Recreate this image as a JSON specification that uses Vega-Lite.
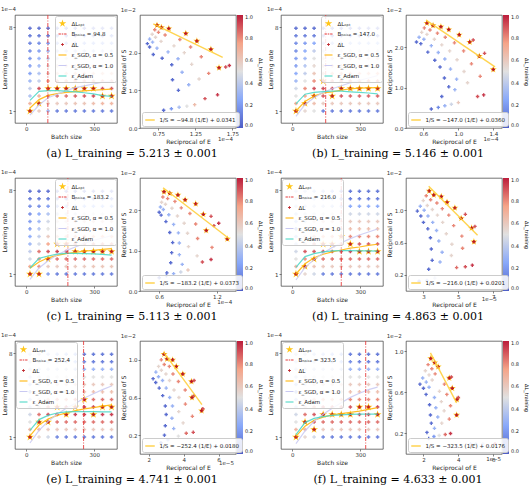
{
"$schema":"https://vega.github.io/schema/vega-lite/v6.json",
"padding":{"left":0,"top":7,"right":0,"bottom":0},
"background":"white",
"config":{
 "font":"DejaVu Sans",
 "view":{"stroke":"#3a3a3a","strokeWidth":0.7},
 "axis":{"grid":false,"domain":false,"tickSize":2,"tickWidth":0.6,"tickColor":"#333","labelFontSize":5.5,"labelColor":"#333","labelPadding":1,"titleFontSize":6,"titleFontWeight":"normal","titleColor":"#222","titlePadding":1.5,"labelOverlap":false,"labelFlush":false},
 "title":{"fontSize":5.5,"fontWeight":"normal","anchor":"start","offset":1.5,"color":"#333"},
 "legend":{"labelFontSize":5.5,"labelColor":"#222","titleFontSize":5,"titleFontWeight":"normal","labelLimit":200,"offset":1,"gradientLength":113,"gradientThickness":6,"rowPadding":1.5,"symbolSize":64}
},
"spacing":10,
"resolve":{"scale":{"color":"independent","fill":"independent","shape":"independent","stroke":"independent"}},
"vconcat":[
{"spacing":2,"resolve":{"scale":{"color":"independent","fill":"independent","shape":"independent","stroke":"independent"}},"hconcat":[
{"title":{"text":"(a) L_training = 5.213 ± 0.001","orient":"bottom","anchor":"middle","font":"DejaVu Serif","fontSize":11,"color":"#000","offset":4},"spacing":2,"resolve":{"scale":{"color":"independent","fill":"independent","shape":"independent","stroke":"independent"}},"hconcat":[
{"width":102,"height":108,"title":"1e−4","layer":[
{"data":{"values":"b,l\n96,2.88\n136,2.88\n176,2.88\n216,2.88\n256,2.88\n296,2.88\n336,2.25\n376,2.25\n56,1.63\n16,1","format":{"type":"csv","parse":{"b":"number","l":"number"}}},"mark":{"type":"point","filled":true,"size":70,"opacity":1},"encoding":{"x":{"field":"b","type":"quantitative","scale":{"domain":[-2,394]},"axis":{"values":[0,100,200,300],"title":"Batch size"}},"y":{"field":"l","type":"quantitative","scale":{"domain":[0.655,8.245]},"axis":{"values":[1,2,3,4,5,6,7,8],"title":"Learning rate"}},
"color":{"datum":"ΔLₒₚₜ","type":"nominal","scale":{"domain":["ΔLₒₚₜ","Bₙₒᵢₛₑ = 94.8","ΔL","ε_SGD, α = 0.5","ε_SGD, α = 1.0","ε_Adam"],"range":["#ffc61a","#e63b3b","#c0282d","#ffb300","#c9c9f2","#46d6c6"]},"legend":{"title":null,"orient":"top-right","padding":2.5,"fillColor":"#ffffffd9","strokeColor":"#cccccc","cornerRadius":2}},
"shape":{"datum":"ΔLₒₚₜ","type":"nominal","scale":{"domain":["ΔLₒₚₜ","Bₙₒᵢₛₑ = 94.8","ΔL","ε_SGD, α = 0.5","ε_SGD, α = 1.0","ε_Adam"],"range":["M0,-1L0.22,-0.31L0.95,-0.31L0.36,0.12L0.59,0.81L0,0.38L-0.59,0.81L-0.36,0.12L-0.95,-0.31L-0.22,-0.31Z","M-1,-0.13H-0.4V0.13H-1Z M-0.2,-0.13H0.2V0.13H-0.2Z M0.4,-0.13H1V0.13H0.4Z","M-0.35,-0.1H0.35V0.1H-0.35Z M-0.1,-0.35H0.1V0.35H-0.1Z","M-1,-0.13H1V0.13H-1Z","M-1,-0.13H1V0.13H-1Z","M-1,-0.13H1V0.13H-1Z"]}}}},
{"data":{"values":"b,l,d\n16,7.9,.05\n56,7.9,.05\n96,7.9,.05\n136,7.9,.05\n176,7.9,.05\n216,7.9,.05\n256,7.9,.05\n296,7.9,.05\n336,7.9,.05\n376,7.9,.05\n16,7.27,.08\n56,7.27,.08\n96,7.27,.08\n136,7.27,.08\n176,7.27,.08\n216,7.27,.08\n256,7.27,.08\n296,7.27,.08\n336,7.27,.08\n376,7.27,.08\n16,6.64,.12\n56,6.64,.15\n96,6.64,.2\n136,6.64,.2\n176,6.64,.2\n216,6.64,.2\n256,6.64,.2\n296,6.64,.2\n336,6.64,.2\n376,6.64,.2\n16,6,.15\n56,6,.2\n96,6,.3\n136,6,.35\n176,6,.35\n216,6,.35\n256,6,.35\n296,6,.35\n336,6,.35\n376,6,.35\n16,5.38,.18\n56,5.38,.28\n96,5.38,.4\n136,5.38,.45\n176,5.38,.5\n216,5.38,.5\n256,5.38,.5\n296,5.38,.5\n336,5.38,.5\n376,5.38,.5\n16,4.76,.2\n56,4.76,.3\n96,4.76,.5\n136,4.76,.58\n176,4.76,.6\n216,4.76,.6\n256,4.76,.6\n296,4.76,.6\n336,4.76,.6\n376,4.76,.6\n16,4.13,.22\n56,4.13,.35\n96,4.13,.58\n136,4.13,.65\n176,4.13,.68\n216,4.13,.68\n256,4.13,.68\n296,4.13,.68\n336,4.13,.68\n376,4.13,.68\n16,3.5,.3\n56,3.5,.4\n96,3.5,.75\n136,3.5,.8\n176,3.5,.8\n216,3.5,.8\n256,3.5,.8\n296,3.5,.8\n336,3.5,.8\n376,3.5,.8\n16,2.88,.4\n56,2.88,.92\n96,2.88,1\n136,2.88,1\n176,2.88,1\n216,2.88,1\n256,2.88,1\n296,2.88,1\n336,2.88,.92\n376,2.88,.9\n16,2.25,.35\n56,2.25,.7\n96,2.25,.85\n136,2.25,.85\n176,2.25,.85\n216,2.25,.88\n256,2.25,.9\n296,2.25,.92\n336,2.25,1\n376,2.25,1\n16,1.63,.7\n56,1.63,1\n96,1.63,.62\n136,1.63,.6\n176,1.63,.6\n216,1.63,.62\n256,1.63,.62\n296,1.63,.65\n336,1.63,.68\n376,1.63,.68\n16,1,1\n56,1,.6\n96,1,.3\n136,1,.1\n176,1,.1\n216,1,.1\n256,1,.1\n296,1,.1\n336,1,.1\n376,1,.1","format":{"type":"csv","parse":{"b":"number","l":"number","d":"number"}}},"mark":{"type":"point","shape":"cross","filled":true,"size":13,"opacity":0.85},"encoding":{"x":{"field":"b","type":"quantitative"},"y":{"field":"l","type":"quantitative"},"fill":{"field":"d","type":"quantitative","scale":{"domain":[0,0.25,0.5,0.75,1],"range":["#3b4cc0","#7b9ff9","#dddddd","#f49a7b","#b40426"],"interpolate":"rgb"},"legend":null}}},
{"data":{"values":"s,b,l\nh,16,1.25\nh,56,1.95\nh,96,2.3\nh,136,2.45\nh,176,2.55\nh,216,2.62\nh,256,2.68\nh,296,2.73\nh,336,2.78\nh,376,2.82\nk,16,.65\nk,56,1.5\nk,96,2.1\nk,136,2.4\nk,176,2.7\nk,216,2.95\nk,256,3.1\nk,296,3.25\nk,336,3.4\nk,376,3.5\nm,16,1.88\nm,56,2.63\nm,96,2.7\nm,136,2.7\nm,176,2.66\nm,216,2.6\nm,256,2.52\nm,296,2.42\nm,336,2.28\nm,376,2.22","format":{"type":"csv","parse":{"b":"number","l":"number"}}},"mark":{"type":"line","strokeWidth":1.2,"opacity":0.85},"encoding":{"x":{"field":"b","type":"quantitative"},"y":{"field":"l","type":"quantitative"},"stroke":{"field":"s","type":"nominal","scale":{"domain":["h","k","m"],"range":["#ffb300","#c9c9f2","#46d6c6"]},"legend":null}}},
{"data":{"values":[{"b":94.8}]},"mark":{"type":"rule","color":"#e63b3b","strokeWidth":1.1,"strokeDash":[4,1.5,1,1.5],"opacity":0.8},"encoding":{"x":{"field":"b","type":"quantitative"}}}]},
{"width":96,"height":113,"title":"1e−2","layer":[
{"data":{"values":"x,y\n.73,2.73\n.79,2.67\n.89,2.64\n1.12,2.51\n1.27,2.31\n1.46,2.09\n1.57,1.6","format":{"type":"csv","parse":{"x":"number","y":"number"}}},"mark":{"type":"point","shape":"M0,-1L0.22,-0.31L0.95,-0.31L0.36,0.12L0.59,0.81L0,0.38L-0.59,0.81L-0.36,0.12L-0.95,-0.31L-0.22,-0.31Z","filled":true,"size":55,"color":"#ffc61a","opacity":1},"encoding":{"x":{"field":"x","type":"quantitative","scale":{"domain":[0.56,1.76]},"axis":{"values":[0.75,1,1.25,1.5,1.75],"format":".2f","title":"Reciprocal of E"}},"y":{"field":"y","type":"quantitative","scale":{"domain":[0,2.9]},"axis":{"values":[0,0.5,1,1.5,2,2.5],"format":".1f","title":"Reciprocal of S"}}}},
{"data":{"values":"x,y,d\n.6,2.24,.05\n.63,2.36,.3\n.665,2.49,.55\n.7,2.61,.8\n.73,2.73,1\n.63,2.15,.05\n.67,2.28,.3\n.71,2.41,.55\n.75,2.54,.8\n.79,2.67,1\n.68,1.95,.05\n.73,2.12,.3\n.785,2.3,.55\n.84,2.47,.8\n.89,2.64,1\n.8,1.85,.05\n.88,2.02,.3\n.96,2.18,.55\n1.04,2.35,.8\n1.12,2.51,1\n.93,1.68,.05\n1.015,1.84,.3\n1.1,2,.55\n1.185,2.15,.8\n1.27,2.31,1\n.94,1.28,.05\n1.07,1.48,.3\n1.2,1.69,.55\n1.33,1.89,.8\n1.46,2.09,1\n1.02,1,.05\n1.16,1.15,.3\n1.3,1.3,.55\n1.43,1.45,.8\n1.57,1.6,1\n1.66,1.62,.9\n1.71,1.66,.95\n.82,.47,.05\n.925,.51,.2\n1.03,.55,.35\n1.135,.58,.5\n1.24,.62,.65\n1.38,.78,.9\n1.55,.88,.95","format":{"type":"csv","parse":{"x":"number","y":"number","d":"number"}}},"mark":{"type":"point","shape":"cross","filled":true,"size":12,"opacity":0.9},"encoding":{"x":{"field":"x","type":"quantitative"},"y":{"field":"y","type":"quantitative"},"fill":{"field":"d","type":"quantitative","scale":{"domain":[0,0.25,0.5,0.75,1],"range":["#3b4cc0","#7b9ff9","#dddddd","#f49a7b","#b40426"],"interpolate":"rgb"},"legend":{"values":[0,0.2,0.4,0.6,0.8,1],"format":".1f","title":"ΔL_training","titleOrient":"right","titleAngle":270,"labelFontSize":5}}}},
{"data":{"values":[{"x":0.68,"y":2.765,"s":"1/S = −94.8 (1/E) + 0.0341"},{"x":1.62,"y":1.874,"s":"1/S = −94.8 (1/E) + 0.0341"}]},"mark":{"type":"line","strokeWidth":1.4,"opacity":0.85},"encoding":{"x":{"field":"x","type":"quantitative"},"y":{"field":"y","type":"quantitative"},"color":{"field":"s","type":"nominal","scale":{"range":["#ffcc33"]},"legend":{"title":null,"orient":"bottom-left","offset":2,"padding":2.5,"fillColor":"#ffffffd9","strokeColor":"#cccccc","cornerRadius":2,"symbolType":"stroke","symbolStrokeWidth":1.5,"symbolSize":90}}}},
{"data":{"values":[{"t":"1e−4"}]},"mark":{"type":"text","fontSize":5.5,"align":"right","baseline":"top","dy":9,"color":"#333"},"encoding":{"x":{"datum":1.76},"y":{"datum":0},"text":{"field":"t","type":"nominal"}}}]}
]},
{"title":{"text":"(b) L_training = 5.146 ± 0.001","orient":"bottom","anchor":"middle","font":"DejaVu Serif","fontSize":11,"color":"#000","offset":4},"spacing":2,"resolve":{"scale":{"color":"independent","fill":"independent","shape":"independent","stroke":"independent"}},"hconcat":[
{"width":102,"height":108,"title":"1e−4","layer":[
{"data":{"values":"b,l\n16,1\n56,1.63\n96,2.25\n136,3.5\n176,2.25\n216,2.88\n256,2.88\n296,2.88\n336,2.88\n376,2.88","format":{"type":"csv","parse":{"b":"number","l":"number"}}},"mark":{"type":"point","filled":true,"size":70,"opacity":1},"encoding":{"x":{"field":"b","type":"quantitative","scale":{"domain":[-2,394]},"axis":{"values":[0,100,200,300],"title":"Batch size"}},"y":{"field":"l","type":"quantitative","scale":{"domain":[0.655,8.245]},"axis":{"values":[1,2,3,4,5,6,7,8],"title":"Learning rate"}},
"color":{"datum":"ΔLₒₚₜ","type":"nominal","scale":{"domain":["ΔLₒₚₜ","Bₙₒᵢₛₑ = 147.0","ΔL","ε_SGD, α = 0.5","ε_SGD, α = 1.0","ε_Adam"],"range":["#ffc61a","#e63b3b","#c0282d","#ffb300","#c9c9f2","#46d6c6"]},"legend":{"title":null,"orient":"top-right","padding":2.5,"fillColor":"#ffffffd9","strokeColor":"#cccccc","cornerRadius":2}},
"shape":{"datum":"ΔLₒₚₜ","type":"nominal","scale":{"domain":["ΔLₒₚₜ","Bₙₒᵢₛₑ = 147.0","ΔL","ε_SGD, α = 0.5","ε_SGD, α = 1.0","ε_Adam"],"range":["M0,-1L0.22,-0.31L0.95,-0.31L0.36,0.12L0.59,0.81L0,0.38L-0.59,0.81L-0.36,0.12L-0.95,-0.31L-0.22,-0.31Z","M-1,-0.13H-0.4V0.13H-1Z M-0.2,-0.13H0.2V0.13H-0.2Z M0.4,-0.13H1V0.13H0.4Z","M-0.35,-0.1H0.35V0.1H-0.35Z M-0.1,-0.35H0.1V0.35H-0.1Z","M-1,-0.13H1V0.13H-1Z","M-1,-0.13H1V0.13H-1Z","M-1,-0.13H1V0.13H-1Z"]}}}},
{"data":{"values":"b,l,d\n16,7.9,.05\n56,7.9,.05\n96,7.9,.05\n136,7.9,.05\n176,7.9,.05\n216,7.9,.05\n256,7.9,.05\n296,7.9,.05\n336,7.9,.05\n376,7.9,.05\n16,7.27,.1\n56,7.27,.1\n96,7.27,.1\n136,7.27,.1\n176,7.27,.1\n216,7.27,.1\n256,7.27,.1\n296,7.27,.1\n336,7.27,.1\n376,7.27,.1\n16,6.64,.15\n56,6.64,.2\n96,6.64,.25\n136,6.64,.3\n176,6.64,.3\n216,6.64,.3\n256,6.64,.3\n296,6.64,.3\n336,6.64,.3\n376,6.64,.3\n16,6,.15\n56,6,.25\n96,6,.4\n136,6,.45\n176,6,.45\n216,6,.5\n256,6,.5\n296,6,.5\n336,6,.5\n376,6,.5\n16,5.38,.2\n56,5.38,.3\n96,5.38,.5\n136,5.38,.55\n176,5.38,.6\n216,5.38,.6\n256,5.38,.6\n296,5.38,.6\n336,5.38,.6\n376,5.38,.6\n16,4.76,.2\n56,4.76,.35\n96,4.76,.55\n136,4.76,.62\n176,4.76,.65\n216,4.76,.65\n256,4.76,.65\n296,4.76,.65\n336,4.76,.65\n376,4.76,.65\n16,4.13,.25\n56,4.13,.4\n96,4.13,.62\n136,4.13,.7\n176,4.13,.72\n216,4.13,.72\n256,4.13,.72\n296,4.13,.72\n336,4.13,.72\n376,4.13,.72\n16,3.5,.3\n56,3.5,.5\n96,3.5,.8\n136,3.5,1\n176,3.5,.85\n216,3.5,.85\n256,3.5,.85\n296,3.5,.85\n336,3.5,.85\n376,3.5,.85\n16,2.88,.45\n56,2.88,.8\n96,2.88,.92\n136,2.88,.92\n176,2.88,.92\n216,2.88,1\n256,2.88,1\n296,2.88,1\n336,2.88,1\n376,2.88,1\n16,2.25,.5\n56,2.25,.75\n96,2.25,1\n136,2.25,.9\n176,2.25,1\n216,2.25,.9\n256,2.25,.88\n296,2.25,.88\n336,2.25,.88\n376,2.25,.88\n16,1.63,.75\n56,1.63,1\n96,1.63,.65\n136,1.63,.6\n176,1.63,.6\n216,1.63,.6\n256,1.63,.6\n296,1.63,.6\n336,1.63,.6\n376,1.63,.6\n16,1,1\n56,1,.55\n96,1,.5\n136,1,.1\n176,1,.1\n216,1,.1\n256,1,.1\n296,1,.1\n336,1,.1\n376,1,.1","format":{"type":"csv","parse":{"b":"number","l":"number","d":"number"}}},"mark":{"type":"point","shape":"cross","filled":true,"size":13,"opacity":0.85},"encoding":{"x":{"field":"b","type":"quantitative"},"y":{"field":"l","type":"quantitative"},"fill":{"field":"d","type":"quantitative","scale":{"domain":[0,0.25,0.5,0.75,1],"range":["#3b4cc0","#7b9ff9","#dddddd","#f49a7b","#b40426"],"interpolate":"rgb"},"legend":null}}},
{"data":{"values":"s,b,l\nh,16,1\nh,56,1.8\nh,96,2.25\nh,136,2.5\nh,176,2.6\nh,216,2.75\nh,256,2.85\nh,296,2.9\nh,336,2.93\nh,376,2.95\nk,16,.55\nk,56,1.55\nk,96,2.1\nk,136,2.55\nk,176,2.85\nk,216,3.1\nk,256,3.35\nk,296,3.55\nk,336,3.75\nk,376,3.95\nm,16,1.6\nm,56,2.4\nm,96,2.55\nm,136,2.62\nm,176,2.65\nm,216,2.65\nm,256,2.6\nm,296,2.55\nm,336,2.5\nm,376,2.42","format":{"type":"csv","parse":{"b":"number","l":"number"}}},"mark":{"type":"line","strokeWidth":1.2,"opacity":0.85},"encoding":{"x":{"field":"b","type":"quantitative"},"y":{"field":"l","type":"quantitative"},"stroke":{"field":"s","type":"nominal","scale":{"domain":["h","k","m"],"range":["#ffb300","#c9c9f2","#46d6c6"]},"legend":null}}},
{"data":{"values":[{"b":147.0}]},"mark":{"type":"rule","color":"#e63b3b","strokeWidth":1.1,"strokeDash":[4,1.5,1,1.5],"opacity":0.8},"encoding":{"x":{"field":"b","type":"quantitative"}}}]},
{"width":96,"height":113,"title":"1e−2","layer":[
{"data":{"values":"x,y\n.64,2.6\n.71,2.54\n.8,2.51\n.89,2.44\n1.01,2.31\n1.13,2.13\n1.24,1.78\n1.4,1.45","format":{"type":"csv","parse":{"x":"number","y":"number"}}},"mark":{"type":"point","shape":"M0,-1L0.22,-0.31L0.95,-0.31L0.36,0.12L0.59,0.81L0,0.38L-0.59,0.81L-0.36,0.12L-0.95,-0.31L-0.22,-0.31Z","filled":true,"size":55,"color":"#ffc61a","opacity":1},"encoding":{"x":{"field":"x","type":"quantitative","scale":{"domain":[0.48,1.46]},"axis":{"values":[0.6,0.8,1.0,1.2,1.4],"format":".1f","title":"Reciprocal of E"}},"y":{"field":"y","type":"quantitative","scale":{"domain":[0,2.79]},"axis":{"values":[0,0.5,1,1.5,2,2.5],"format":".1f","title":"Reciprocal of S"}}}},
{"data":{"values":"x,y,d\n.52,2.13,.05\n.55,2.25,.3\n.58,2.37,.55\n.61,2.48,.8\n.64,2.6,1\n.57,2.09,.05\n.605,2.2,.3\n.64,2.32,.55\n.675,2.43,.8\n.71,2.54,1\n.65,1.88,.05\n.69,2.04,.3\n.725,2.2,.55\n.76,2.35,.8\n.8,2.51,1\n.73,1.68,.05\n.77,1.87,.3\n.81,2.06,.55\n.85,2.25,.8\n.89,2.44,1\n.79,1.51,.05\n.845,1.71,.3\n.9,1.91,.55\n.955,2.11,.8\n1.01,2.31,1\n.84,1.24,.05\n.91,1.46,.3\n.985,1.69,.55\n1.06,1.91,.8\n1.13,2.13,1\n1.17,2.18,.9\n.89,1.02,.05\n.98,1.21,.3\n1.065,1.4,.55\n1.15,1.59,.8\n1.24,1.78,1\n1.3,1.85,.9\n.81,.78,.05\n.96,.95,.3\n1.105,1.12,.55\n1.25,1.28,.8\n1.4,1.45,1\n.69,.47,.05\n.77,.51,.15\n.845,.55,.3\n.92,.59,.45\n1,.63,.6\n1.22,.78,.9\n1.29,.82,.95","format":{"type":"csv","parse":{"x":"number","y":"number","d":"number"}}},"mark":{"type":"point","shape":"cross","filled":true,"size":12,"opacity":0.9},"encoding":{"x":{"field":"x","type":"quantitative"},"y":{"field":"y","type":"quantitative"},"fill":{"field":"d","type":"quantitative","scale":{"domain":[0,0.25,0.5,0.75,1],"range":["#3b4cc0","#7b9ff9","#dddddd","#f49a7b","#b40426"],"interpolate":"rgb"},"legend":{"values":[0,0.2,0.4,0.6,0.8,1],"format":".1f","title":"ΔL_training","titleOrient":"right","titleAngle":270,"labelFontSize":5}}}},
{"data":{"values":[{"x":0.63,"y":2.674,"s":"1/S = −147.0 (1/E) + 0.0360"},{"x":1.42,"y":1.513,"s":"1/S = −147.0 (1/E) + 0.0360"}]},"mark":{"type":"line","strokeWidth":1.4,"opacity":0.85},"encoding":{"x":{"field":"x","type":"quantitative"},"y":{"field":"y","type":"quantitative"},"color":{"field":"s","type":"nominal","scale":{"range":["#ffcc33"]},"legend":{"title":null,"orient":"bottom-left","offset":2,"padding":2.5,"fillColor":"#ffffffd9","strokeColor":"#cccccc","cornerRadius":2,"symbolType":"stroke","symbolStrokeWidth":1.5,"symbolSize":90}}}},
{"data":{"values":[{"t":"1e−4"}]},"mark":{"type":"text","fontSize":5.5,"align":"right","baseline":"top","dy":9,"color":"#333"},"encoding":{"x":{"datum":1.46},"y":{"datum":0},"text":{"field":"t","type":"nominal"}}}]}
]}
]},
{"spacing":2,"resolve":{"scale":{"color":"independent","fill":"independent","shape":"independent","stroke":"independent"}},"hconcat":[
{"title":{"text":"(c) L_training = 5.113 ± 0.001","orient":"bottom","anchor":"middle","font":"DejaVu Serif","fontSize":11,"color":"#000","offset":4},"spacing":2,"resolve":{"scale":{"color":"independent","fill":"independent","shape":"independent","stroke":"independent"}},"hconcat":[
{"width":102,"height":108,"title":"1e−4","layer":[
{"data":{"values":"b,l\n16,1\n56,1\n96,2.25\n136,3.5\n176,3.5\n216,2.88\n256,2.88\n296,2.88\n336,2.88\n376,2.88","format":{"type":"csv","parse":{"b":"number","l":"number"}}},"mark":{"type":"point","filled":true,"size":70,"opacity":1},"encoding":{"x":{"field":"b","type":"quantitative","scale":{"domain":[-2,394]},"axis":{"values":[0,100,200,300],"title":"Batch size"}},"y":{"field":"l","type":"quantitative","scale":{"domain":[0.655,8.245]},"axis":{"values":[1,2,3,4,5,6,7,8],"title":"Learning rate"}},
"color":{"datum":"ΔLₒₚₜ","type":"nominal","scale":{"domain":["ΔLₒₚₜ","Bₙₒᵢₛₑ = 183.2","ΔL","ε_SGD, α = 0.5","ε_SGD, α = 1.0","ε_Adam"],"range":["#ffc61a","#e63b3b","#c0282d","#ffb300","#c9c9f2","#46d6c6"]},"legend":{"title":null,"orient":"top-right","padding":2.5,"fillColor":"#ffffffd9","strokeColor":"#cccccc","cornerRadius":2}},
"shape":{"datum":"ΔLₒₚₜ","type":"nominal","scale":{"domain":["ΔLₒₚₜ","Bₙₒᵢₛₑ = 183.2","ΔL","ε_SGD, α = 0.5","ε_SGD, α = 1.0","ε_Adam"],"range":["M0,-1L0.22,-0.31L0.95,-0.31L0.36,0.12L0.59,0.81L0,0.38L-0.59,0.81L-0.36,0.12L-0.95,-0.31L-0.22,-0.31Z","M-1,-0.13H-0.4V0.13H-1Z M-0.2,-0.13H0.2V0.13H-0.2Z M0.4,-0.13H1V0.13H0.4Z","M-0.35,-0.1H0.35V0.1H-0.35Z M-0.1,-0.35H0.1V0.35H-0.1Z","M-1,-0.13H1V0.13H-1Z","M-1,-0.13H1V0.13H-1Z","M-1,-0.13H1V0.13H-1Z"]}}}},
{"data":{"values":"b,l,d\n16,7.9,.05\n56,7.9,.05\n96,7.9,.05\n136,7.9,.05\n176,7.9,.05\n216,7.9,.05\n256,7.9,.05\n296,7.9,.05\n336,7.9,.05\n376,7.9,.05\n16,7.27,.08\n56,7.27,.08\n96,7.27,.08\n136,7.27,.08\n176,7.27,.08\n216,7.27,.08\n256,7.27,.08\n296,7.27,.08\n336,7.27,.08\n376,7.27,.08\n16,6.64,.15\n56,6.64,.15\n96,6.64,.2\n136,6.64,.2\n176,6.64,.25\n216,6.64,.25\n256,6.64,.25\n296,6.64,.25\n336,6.64,.25\n376,6.64,.25\n16,6,.15\n56,6,.25\n96,6,.35\n136,6,.4\n176,6,.45\n216,6,.45\n256,6,.5\n296,6,.5\n336,6,.5\n376,6,.5\n16,5.38,.2\n56,5.38,.3\n96,5.38,.45\n136,5.38,.55\n176,5.38,.55\n216,5.38,.6\n256,5.38,.6\n296,5.38,.6\n336,5.38,.6\n376,5.38,.6\n16,4.76,.2\n56,4.76,.35\n96,4.76,.5\n136,4.76,.6\n176,4.76,.62\n216,4.76,.65\n256,4.76,.65\n296,4.76,.65\n336,4.76,.65\n376,4.76,.65\n16,4.13,.25\n56,4.13,.4\n96,4.13,.6\n136,4.13,.7\n176,4.13,.72\n216,4.13,.75\n256,4.13,.75\n296,4.13,.75\n336,4.13,.75\n376,4.13,.75\n16,3.5,.3\n56,3.5,.45\n96,3.5,.75\n136,3.5,1\n176,3.5,1\n216,3.5,.85\n256,3.5,.85\n296,3.5,.85\n336,3.5,.85\n376,3.5,.85\n16,2.88,.4\n56,2.88,.85\n96,2.88,.92\n136,2.88,.95\n176,2.88,.95\n216,2.88,1\n256,2.88,1\n296,2.88,1\n336,2.88,1\n376,2.88,1\n16,2.25,.45\n56,2.25,.8\n96,2.25,1\n136,2.25,.85\n176,2.25,.85\n216,2.25,.85\n256,2.25,.85\n296,2.25,.85\n336,2.25,.85\n376,2.25,.85\n16,1.63,.75\n56,1.63,.8\n96,1.63,.6\n136,1.63,.6\n176,1.63,.6\n216,1.63,.6\n256,1.63,.6\n296,1.63,.62\n336,1.63,.62\n376,1.63,.62\n16,1,1\n56,1,1\n96,1,.2\n136,1,.1\n176,1,.1\n216,1,.1\n256,1,.1\n296,1,.1\n336,1,.1\n376,1,.1","format":{"type":"csv","parse":{"b":"number","l":"number","d":"number"}}},"mark":{"type":"point","shape":"cross","filled":true,"size":13,"opacity":0.85},"encoding":{"x":{"field":"b","type":"quantitative"},"y":{"field":"l","type":"quantitative"},"fill":{"field":"d","type":"quantitative","scale":{"domain":[0,0.25,0.5,0.75,1],"range":["#3b4cc0","#7b9ff9","#dddddd","#f49a7b","#b40426"],"interpolate":"rgb"},"legend":null}}},
{"data":{"values":"s,b,l\nh,16,1.48\nh,56,2\nh,96,2.35\nh,136,2.55\nh,176,2.7\nh,216,2.8\nh,256,2.9\nh,296,2.97\nh,336,3.05\nh,376,3.12\nk,16,.55\nk,56,1.5\nk,96,2.1\nk,136,2.6\nk,176,2.95\nk,216,3.25\nk,256,3.55\nk,296,3.8\nk,336,4\nk,376,4.2\nm,16,1.5\nm,56,2.3\nm,96,2.5\nm,136,2.65\nm,176,2.72\nm,216,2.72\nm,256,2.7\nm,296,2.68\nm,336,2.63\nm,376,2.58","format":{"type":"csv","parse":{"b":"number","l":"number"}}},"mark":{"type":"line","strokeWidth":1.2,"opacity":0.85},"encoding":{"x":{"field":"b","type":"quantitative"},"y":{"field":"l","type":"quantitative"},"stroke":{"field":"s","type":"nominal","scale":{"domain":["h","k","m"],"range":["#ffb300","#c9c9f2","#46d6c6"]},"legend":null}}},
{"data":{"values":[{"b":183.2}]},"mark":{"type":"rule","color":"#e63b3b","strokeWidth":1.1,"strokeDash":[4,1.5,1,1.5],"opacity":0.8},"encoding":{"x":{"field":"b","type":"quantitative"}}}]},
{"width":96,"height":113,"title":"1e−2","layer":[
{"data":{"values":"x,y\n.65,2.46\n.71,2.42\n.795,2.38\n.87,2.26\n.98,2.16\n1.06,1.9\n1.09,1.5\n1.31,1.29","format":{"type":"csv","parse":{"x":"number","y":"number"}}},"mark":{"type":"point","shape":"M0,-1L0.22,-0.31L0.95,-0.31L0.36,0.12L0.59,0.81L0,0.38L-0.59,0.81L-0.36,0.12L-0.95,-0.31L-0.22,-0.31Z","filled":true,"size":55,"color":"#ffc61a","opacity":1},"encoding":{"x":{"field":"x","type":"quantitative","scale":{"domain":[0.44,1.36]},"axis":{"values":[0.6,0.8,1.0,1.2],"format":".1f","title":"Reciprocal of E"}},"y":{"field":"y","type":"quantitative","scale":{"domain":[0,2.66]},"axis":{"values":[0,0.5,1,1.5,2,2.5],"format":".1f","title":"Reciprocal of S"}}}},
{"data":{"values":"x,y,d\n.6,1.95,.05\n.613,2.08,.3\n.625,2.2,.55\n.638,2.33,.8\n.65,2.46,1\n.62,1.88,.05\n.643,2.02,.3\n.665,2.15,.55\n.688,2.29,.8\n.71,2.42,1\n.67,1.72,.05\n.7,1.89,.3\n.733,2.05,.55\n.764,2.22,.8\n.795,2.38,1\n.71,1.45,.05\n.75,1.65,.3\n.79,1.86,.55\n.83,2.06,.8\n.87,2.26,1\n.74,1.2,.05\n.8,1.44,.3\n.86,1.68,.55\n.92,1.92,.8\n.98,2.16,1\n.73,.95,.05\n.81,1.19,.3\n.895,1.43,.55\n.98,1.66,.8\n1.06,1.9,1\n1.14,1.85,.9\n.72,.7,.05\n.81,.9,.3\n.905,1.1,.55\n1,1.3,.8\n1.09,1.5,1\n1.17,1.62,.9\n1.22,1.68,.95\n.68,.45,.05\n.84,.66,.3\n.995,.87,.55\n1.15,1.08,.8\n1.31,1.29,1\n.6,.33,.05\n.675,.38,.15\n.75,.43,.3\n.825,.47,.45\n.9,.52,.6\n1.05,.72,.9\n1.14,.78,.95","format":{"type":"csv","parse":{"x":"number","y":"number","d":"number"}}},"mark":{"type":"point","shape":"cross","filled":true,"size":12,"opacity":0.9},"encoding":{"x":{"field":"x","type":"quantitative"},"y":{"field":"y","type":"quantitative"},"fill":{"field":"d","type":"quantitative","scale":{"domain":[0,0.25,0.5,0.75,1],"range":["#3b4cc0","#7b9ff9","#dddddd","#f49a7b","#b40426"],"interpolate":"rgb"},"legend":{"values":[0,0.2,0.4,0.6,0.8,1],"format":".1f","title":"ΔL_training","titleOrient":"right","titleAngle":270,"labelFontSize":5}}}},
{"data":{"values":[{"x":0.64,"y":2.558,"s":"1/S = −183.2 (1/E) + 0.0373"},{"x":1.33,"y":1.293,"s":"1/S = −183.2 (1/E) + 0.0373"}]},"mark":{"type":"line","strokeWidth":1.4,"opacity":0.85},"encoding":{"x":{"field":"x","type":"quantitative"},"y":{"field":"y","type":"quantitative"},"color":{"field":"s","type":"nominal","scale":{"range":["#ffcc33"]},"legend":{"title":null,"orient":"bottom-left","offset":2,"padding":2.5,"fillColor":"#ffffffd9","strokeColor":"#cccccc","cornerRadius":2,"symbolType":"stroke","symbolStrokeWidth":1.5,"symbolSize":90}}}},
{"data":{"values":[{"t":"1e−4"}]},"mark":{"type":"text","fontSize":5.5,"align":"right","baseline":"top","dy":9,"color":"#333"},"encoding":{"x":{"datum":1.36},"y":{"datum":0},"text":{"field":"t","type":"nominal"}}}]}
]},
{"title":{"text":"(d) L_training = 4.863 ± 0.001","orient":"bottom","anchor":"middle","font":"DejaVu Serif","fontSize":11,"color":"#000","offset":4},"spacing":2,"resolve":{"scale":{"color":"independent","fill":"independent","shape":"independent","stroke":"independent"}},"hconcat":[
{"width":102,"height":108,"title":"1e−4","layer":[
{"data":{"values":"b,l\n16,1\n56,1.63\n96,2.25\n136,3.5\n176,3.5\n216,4.13\n256,3.5\n296,2.88\n336,2.88\n376,2.88","format":{"type":"csv","parse":{"b":"number","l":"number"}}},"mark":{"type":"point","filled":true,"size":70,"opacity":1},"encoding":{"x":{"field":"b","type":"quantitative","scale":{"domain":[-2,394]},"axis":{"values":[0,100,200,300],"title":"Batch size"}},"y":{"field":"l","type":"quantitative","scale":{"domain":[0.655,8.245]},"axis":{"values":[1,2,3,4,5,6,7,8],"title":"Learning rate"}},
"color":{"datum":"ΔLₒₚₜ","type":"nominal","scale":{"domain":["ΔLₒₚₜ","Bₙₒᵢₛₑ = 216.0","ΔL","ε_SGD, α = 0.5","ε_SGD, α = 1.0","ε_Adam"],"range":["#ffc61a","#e63b3b","#c0282d","#ffb300","#c9c9f2","#46d6c6"]},"legend":{"title":null,"orient":"top-left","padding":2.5,"fillColor":"#ffffffd9","strokeColor":"#cccccc","cornerRadius":2}},
"shape":{"datum":"ΔLₒₚₜ","type":"nominal","scale":{"domain":["ΔLₒₚₜ","Bₙₒᵢₛₑ = 216.0","ΔL","ε_SGD, α = 0.5","ε_SGD, α = 1.0","ε_Adam"],"range":["M0,-1L0.22,-0.31L0.95,-0.31L0.36,0.12L0.59,0.81L0,0.38L-0.59,0.81L-0.36,0.12L-0.95,-0.31L-0.22,-0.31Z","M-1,-0.13H-0.4V0.13H-1Z M-0.2,-0.13H0.2V0.13H-0.2Z M0.4,-0.13H1V0.13H0.4Z","M-0.35,-0.1H0.35V0.1H-0.35Z M-0.1,-0.35H0.1V0.35H-0.1Z","M-1,-0.13H1V0.13H-1Z","M-1,-0.13H1V0.13H-1Z","M-1,-0.13H1V0.13H-1Z"]}}}},
{"data":{"values":"b,l,d\n16,7.9,.4\n56,7.9,.4\n96,7.9,.35\n136,7.9,.3\n176,7.9,.25\n216,7.9,.1\n256,7.9,.08\n296,7.9,.08\n336,7.9,.08\n376,7.9,.08\n16,7.27,.4\n56,7.27,.4\n96,7.27,.35\n136,7.27,.3\n176,7.27,.3\n216,7.27,.15\n256,7.27,.1\n296,7.27,.1\n336,7.27,.1\n376,7.27,.1\n16,6.64,.4\n56,6.64,.4\n96,6.64,.4\n136,6.64,.4\n176,6.64,.35\n216,6.64,.3\n256,6.64,.25\n296,6.64,.25\n336,6.64,.25\n376,6.64,.25\n16,6,.35\n56,6,.45\n96,6,.45\n136,6,.5\n176,6,.5\n216,6,.5\n256,6,.45\n296,6,.45\n336,6,.45\n376,6,.45\n16,5.38,.3\n56,5.38,.45\n96,5.38,.55\n136,5.38,.6\n176,5.38,.6\n216,5.38,.6\n256,5.38,.6\n296,5.38,.6\n336,5.38,.6\n376,5.38,.6\n16,4.76,.15\n56,4.76,.5\n96,4.76,.6\n136,4.76,.65\n176,4.76,.65\n216,4.76,.65\n256,4.76,.65\n296,4.76,.65\n336,4.76,.65\n376,4.76,.65\n16,4.13,.3\n56,4.13,.55\n96,4.13,.7\n136,4.13,.75\n176,4.13,.78\n216,4.13,1\n256,4.13,.8\n296,4.13,.8\n336,4.13,.8\n376,4.13,.8\n16,3.5,.35\n56,3.5,.6\n96,3.5,.85\n136,3.5,1\n176,3.5,1\n216,3.5,.9\n256,3.5,1\n296,3.5,.9\n336,3.5,.9\n376,3.5,.9\n16,2.88,.45\n56,2.88,.9\n96,2.88,.9\n136,2.88,.92\n176,2.88,.92\n216,2.88,.92\n256,2.88,.95\n296,2.88,1\n336,2.88,1\n376,2.88,1\n16,2.25,.5\n56,2.25,.8\n96,2.25,1\n136,2.25,.85\n176,2.25,.85\n216,2.25,.85\n256,2.25,.85\n296,2.25,.85\n336,2.25,.85\n376,2.25,.85\n16,1.63,.7\n56,1.63,1\n96,1.63,.62\n136,1.63,.6\n176,1.63,.6\n216,1.63,.6\n256,1.63,.6\n296,1.63,.6\n336,1.63,.6\n376,1.63,.6\n16,1,1\n56,1,.55\n96,1,.45\n136,1,.12\n176,1,.1\n216,1,.1\n256,1,.1\n296,1,.1\n336,1,.1\n376,1,.1","format":{"type":"csv","parse":{"b":"number","l":"number","d":"number"}}},"mark":{"type":"point","shape":"cross","filled":true,"size":13,"opacity":0.85},"encoding":{"x":{"field":"b","type":"quantitative"},"y":{"field":"l","type":"quantitative"},"fill":{"field":"d","type":"quantitative","scale":{"domain":[0,0.25,0.5,0.75,1],"range":["#3b4cc0","#7b9ff9","#dddddd","#f49a7b","#b40426"],"interpolate":"rgb"},"legend":null}}},
{"data":{"values":"s,b,l\nh,16,1\nh,56,1.85\nh,96,2.35\nh,136,2.65\nh,176,2.85\nh,216,3\nh,256,3.15\nh,296,3.25\nh,336,3.38\nh,376,3.48\nk,16,.5\nk,56,1.55\nk,96,2.2\nk,136,2.75\nk,176,3.2\nk,216,3.6\nk,256,3.95\nk,296,4.25\nk,336,4.5\nk,376,4.75\nm,16,1.55\nm,56,2.45\nm,96,2.7\nm,136,2.85\nm,176,2.92\nm,216,2.95\nm,256,2.95\nm,296,2.93\nm,336,2.92\nm,376,2.9","format":{"type":"csv","parse":{"b":"number","l":"number"}}},"mark":{"type":"line","strokeWidth":1.2,"opacity":0.85},"encoding":{"x":{"field":"b","type":"quantitative"},"y":{"field":"l","type":"quantitative"},"stroke":{"field":"s","type":"nominal","scale":{"domain":["h","k","m"],"range":["#ffb300","#c9c9f2","#46d6c6"]},"legend":null}}},
{"data":{"values":[{"b":216.0}]},"mark":{"type":"rule","color":"#e63b3b","strokeWidth":1.1,"strokeDash":[4,1.5,1,1.5],"opacity":0.8},"encoding":{"x":{"field":"b","type":"quantitative"}}}]},
{"width":96,"height":113,"title":"1e−2","layer":[
{"data":{"values":"x,y\n3.33,1.24\n3.59,1.19\n4.02,1.17\n4.35,1.1\n4.8,1.03\n5.16,.9\n5.76,.78\n5.89,.61","format":{"type":"csv","parse":{"x":"number","y":"number"}}},"mark":{"type":"point","shape":"M0,-1L0.22,-0.31L0.95,-0.31L0.36,0.12L0.59,0.81L0,0.38L-0.59,0.81L-0.36,0.12L-0.95,-0.31L-0.22,-0.31Z","filled":true,"size":55,"color":"#ffc61a","opacity":1},"encoding":{"x":{"field":"x","type":"quantitative","scale":{"domain":[2.24,7.2]},"axis":{"values":[3,4,5,6,7],"format":"d","title":"Reciprocal of E"}},"y":{"field":"y","type":"quantitative","scale":{"domain":[0.035,1.315]},"axis":{"values":[0.2,0.4,0.6,0.8,1.0,1.2],"format":".1f","title":"Reciprocal of S"}}}},
{"data":{"values":"x,y,d\n2.65,.99,.05\n2.82,1.05,.3\n2.99,1.12,.55\n3.16,1.18,.8\n3.33,1.24,1\n2.85,.93,.05\n3.04,1,.3\n3.22,1.06,.55\n3.41,1.13,.8\n3.59,1.19,1\n3,.85,.05\n3.26,.93,.3\n3.51,1.01,.55\n3.77,1.09,.8\n4.02,1.17,1\n3.25,.77,.05\n3.53,.85,.3\n3.8,.94,.55\n4.08,1.02,.8\n4.35,1.1,1\n3.4,.66,.05\n3.75,.75,.3\n4.1,.85,.55\n4.45,.94,.8\n4.8,1.03,1\n3.45,.52,.05\n3.88,.62,.3\n4.31,.71,.55\n4.73,.81,.8\n5.16,.9,1\n5.4,.95,.9\n3.5,.38,.05\n4.07,.48,.3\n4.63,.58,.55\n5.2,.68,.8\n5.76,.78,1\n5.95,.8,.9\n3.3,.27,.05\n3.95,.36,.3\n4.6,.44,.55\n5.24,.53,.8\n5.89,.61,1\n2.75,.12,.05\n3.2,.13,.2\n3.65,.16,.4\n4.9,.29,.85\n5.4,.3,.9\n5.8,.32,.95\n6,.1,.3\n6.3,.1,.35\n6.55,.11,.4\n7,.11,.9","format":{"type":"csv","parse":{"x":"number","y":"number","d":"number"}}},"mark":{"type":"point","shape":"cross","filled":true,"size":12,"opacity":0.9},"encoding":{"x":{"field":"x","type":"quantitative"},"y":{"field":"y","type":"quantitative"},"fill":{"field":"d","type":"quantitative","scale":{"domain":[0,0.25,0.5,0.75,1],"range":["#3b4cc0","#7b9ff9","#dddddd","#f49a7b","#b40426"],"interpolate":"rgb"},"legend":{"values":[0,0.2,0.4,0.6,0.8,1],"format":".1f","title":"ΔL_training","titleOrient":"right","titleAngle":270,"labelFontSize":5}}}},
{"data":{"values":[{"x":3.3,"y":1.297,"s":"1/S = −216.0 (1/E) + 0.0201"},{"x":6.1,"y":0.692,"s":"1/S = −216.0 (1/E) + 0.0201"}]},"mark":{"type":"line","strokeWidth":1.4,"opacity":0.85},"encoding":{"x":{"field":"x","type":"quantitative"},"y":{"field":"y","type":"quantitative"},"color":{"field":"s","type":"nominal","scale":{"range":["#ffcc33"]},"legend":{"title":null,"orient":"bottom-left","offset":2,"padding":2.5,"fillColor":"#ffffffd9","strokeColor":"#cccccc","cornerRadius":2,"symbolType":"stroke","symbolStrokeWidth":1.5,"symbolSize":90}}}},
{"data":{"values":[{"t":"1e−5"}]},"mark":{"type":"text","fontSize":5.5,"align":"right","baseline":"top","dy":9,"color":"#333"},"encoding":{"x":{"datum":7.2},"y":{"datum":0.035},"text":{"field":"t","type":"nominal"}}}]}
]}
]},
{"spacing":2,"resolve":{"scale":{"color":"independent","fill":"independent","shape":"independent","stroke":"independent"}},"hconcat":[
{"title":{"text":"(e) L_training = 4.741 ± 0.001","orient":"bottom","anchor":"middle","font":"DejaVu Serif","fontSize":11,"color":"#000","offset":4},"spacing":2,"resolve":{"scale":{"color":"independent","fill":"independent","shape":"independent","stroke":"independent"}},"hconcat":[
{"width":102,"height":108,"title":"1e−4","layer":[
{"data":{"values":"b,l\n16,1\n56,2.25\n96,2.25\n136,3.5\n176,2.88\n216,3.5\n256,4.13\n296,2.88\n336,3.5\n376,3.5","format":{"type":"csv","parse":{"b":"number","l":"number"}}},"mark":{"type":"point","filled":true,"size":70,"opacity":1},"encoding":{"x":{"field":"b","type":"quantitative","scale":{"domain":[-2,394]},"axis":{"values":[0,100,200,300],"title":"Batch size"}},"y":{"field":"l","type":"quantitative","scale":{"domain":[0.655,8.245]},"axis":{"values":[1,2,3,4,5,6,7,8],"title":"Learning rate"}},
"color":{"datum":"ΔLₒₚₜ","type":"nominal","scale":{"domain":["ΔLₒₚₜ","Bₙₒᵢₛₑ = 252.4","ΔL","ε_SGD, α = 0.5","ε_SGD, α = 1.0","ε_Adam"],"range":["#ffc61a","#e63b3b","#c0282d","#ffb300","#c9c9f2","#46d6c6"]},"legend":{"title":null,"orient":"top-left","padding":2.5,"fillColor":"#ffffffd9","strokeColor":"#cccccc","cornerRadius":2}},
"shape":{"datum":"ΔLₒₚₜ","type":"nominal","scale":{"domain":["ΔLₒₚₜ","Bₙₒᵢₛₑ = 252.4","ΔL","ε_SGD, α = 0.5","ε_SGD, α = 1.0","ε_Adam"],"range":["M0,-1L0.22,-0.31L0.95,-0.31L0.36,0.12L0.59,0.81L0,0.38L-0.59,0.81L-0.36,0.12L-0.95,-0.31L-0.22,-0.31Z","M-1,-0.13H-0.4V0.13H-1Z M-0.2,-0.13H0.2V0.13H-0.2Z M0.4,-0.13H1V0.13H0.4Z","M-0.35,-0.1H0.35V0.1H-0.35Z M-0.1,-0.35H0.1V0.35H-0.1Z","M-1,-0.13H1V0.13H-1Z","M-1,-0.13H1V0.13H-1Z","M-1,-0.13H1V0.13H-1Z"]}}}},
{"data":{"values":"b,l,d\n16,7.9,.4\n56,7.9,.4\n96,7.9,.35\n136,7.9,.3\n176,7.9,.25\n216,7.9,.2\n256,7.9,.1\n296,7.9,.08\n336,7.9,.08\n376,7.9,.08\n16,7.27,.4\n56,7.27,.4\n96,7.27,.4\n136,7.27,.35\n176,7.27,.3\n216,7.27,.25\n256,7.27,.15\n296,7.27,.1\n336,7.27,.1\n376,7.27,.1\n16,6.64,.4\n56,6.64,.4\n96,6.64,.4\n136,6.64,.4\n176,6.64,.4\n216,6.64,.35\n256,6.64,.3\n296,6.64,.3\n336,6.64,.3\n376,6.64,.3\n16,6,.4\n56,6,.45\n96,6,.5\n136,6,.5\n176,6,.5\n216,6,.5\n256,6,.5\n296,6,.5\n336,6,.5\n376,6,.5\n16,5.38,.3\n56,5.38,.45\n96,5.38,.55\n136,5.38,.6\n176,5.38,.6\n216,5.38,.6\n256,5.38,.6\n296,5.38,.6\n336,5.38,.6\n376,5.38,.6\n16,4.76,.15\n56,4.76,.5\n96,4.76,.6\n136,4.76,.65\n176,4.76,.65\n216,4.76,.65\n256,4.76,.65\n296,4.76,.65\n336,4.76,.65\n376,4.76,.65\n16,4.13,.3\n56,4.13,.55\n96,4.13,.7\n136,4.13,.8\n176,4.13,.8\n216,4.13,.85\n256,4.13,1\n296,4.13,.85\n336,4.13,.85\n376,4.13,.85\n16,3.5,.35\n56,3.5,.6\n96,3.5,.85\n136,3.5,1\n176,3.5,.95\n216,3.5,1\n256,3.5,.95\n296,3.5,.95\n336,3.5,1\n376,3.5,1\n16,2.88,.45\n56,2.88,.85\n96,2.88,.92\n136,2.88,.95\n176,2.88,1\n216,2.88,.95\n256,2.88,.95\n296,2.88,1\n336,2.88,.95\n376,2.88,.95\n16,2.25,.5\n56,2.25,1\n96,2.25,1\n136,2.25,.85\n176,2.25,.85\n216,2.25,.85\n256,2.25,.85\n296,2.25,.85\n336,2.25,.85\n376,2.25,.85\n16,1.63,.7\n56,1.63,.7\n96,1.63,.6\n136,1.63,.6\n176,1.63,.6\n216,1.63,.6\n256,1.63,.6\n296,1.63,.6\n336,1.63,.6\n376,1.63,.6\n16,1,1\n56,1,.55\n96,1,.45\n136,1,.12\n176,1,.1\n216,1,.1\n256,1,.1\n296,1,.1\n336,1,.1\n376,1,.1","format":{"type":"csv","parse":{"b":"number","l":"number","d":"number"}}},"mark":{"type":"point","shape":"cross","filled":true,"size":13,"opacity":0.85},"encoding":{"x":{"field":"b","type":"quantitative"},"y":{"field":"l","type":"quantitative"},"fill":{"field":"d","type":"quantitative","scale":{"domain":[0,0.25,0.5,0.75,1],"range":["#3b4cc0","#7b9ff9","#dddddd","#f49a7b","#b40426"],"interpolate":"rgb"},"legend":null}}},
{"data":{"values":"s,b,l\nh,16,1.1\nh,56,2\nh,96,2.5\nh,136,2.8\nh,176,3\nh,216,3.2\nh,256,3.35\nh,296,3.45\nh,336,3.58\nh,376,3.68\nk,16,.5\nk,56,1.55\nk,96,2.3\nk,136,2.9\nk,176,3.4\nk,216,3.8\nk,256,4.25\nk,296,4.6\nk,336,4.95\nk,376,5.25\nm,16,1.55\nm,56,2.45\nm,96,2.8\nm,136,3\nm,176,3.1\nm,216,3.12\nm,256,3.12\nm,296,3.12\nm,336,3.1\nm,376,3.1","format":{"type":"csv","parse":{"b":"number","l":"number"}}},"mark":{"type":"line","strokeWidth":1.2,"opacity":0.85},"encoding":{"x":{"field":"b","type":"quantitative"},"y":{"field":"l","type":"quantitative"},"stroke":{"field":"s","type":"nominal","scale":{"domain":["h","k","m"],"range":["#ffb300","#c9c9f2","#46d6c6"]},"legend":null}}},
{"data":{"values":[{"b":252.4}]},"mark":{"type":"rule","color":"#e63b3b","strokeWidth":1.1,"strokeDash":[4,1.5,1,1.5],"opacity":0.8},"encoding":{"x":{"field":"b","type":"quantitative"}}}]},
{"width":96,"height":113,"title":"1e−2","layer":[
{"data":{"values":"x,y\n2.88,1.06\n3.05,1.01\n3.37,1\n3.58,.93\n3.95,.85\n4.45,.77\n4.48,.6\n5.03,.46","format":{"type":"csv","parse":{"x":"number","y":"number"}}},"mark":{"type":"point","shape":"M0,-1L0.22,-0.31L0.95,-0.31L0.36,0.12L0.59,0.81L0,0.38L-0.59,0.81L-0.36,0.12L-0.95,-0.31L-0.22,-0.31Z","filled":true,"size":55,"color":"#ffc61a","opacity":1},"encoding":{"x":{"field":"x","type":"quantitative","scale":{"domain":[1.72,6.88]},"axis":{"values":[2,3,4,5,6],"format":"d","title":"Reciprocal of E"}},"y":{"field":"y","type":"quantitative","scale":{"domain":[0.023,1.14]},"axis":{"values":[0.2,0.4,0.6,0.8,1.0],"format":".1f","title":"Reciprocal of S"}}}},
{"data":{"values":"x,y,d\n2.25,.8,.05\n2.41,.87,.3\n2.565,.93,.55\n2.72,1,.8\n2.88,1.06,1\n2.4,.76,.05\n2.56,.82,.3\n2.725,.89,.55\n2.89,.95,.8\n3.05,1.01,1\n2.6,.7,.05\n2.79,.78,.3\n2.985,.85,.55\n3.18,.93,.8\n3.37,1,1\n2.8,.62,.05\n3,.7,.3\n3.19,.78,.55\n3.39,.85,.8\n3.58,.93,1\n2.95,.51,.05\n3.2,.6,.3\n3.45,.68,.55\n3.7,.77,.8\n3.95,.85,1\n3,.42,.05\n3.36,.51,.3\n3.73,.6,.55\n4.09,.68,.8\n4.45,.77,1\n4.6,.78,.9\n2.95,.3,.05\n3.33,.38,.3\n3.72,.45,.55\n4.1,.53,.8\n4.48,.6,1\n4.6,.62,.9\n2.9,.2,.05\n3.43,.27,.3\n3.97,.33,.55\n4.5,.4,.8\n5.03,.46,1\n5.1,.48,.9\n2.7,.12,.05\n3.1,.15,.2\n3.7,.19,.5\n4.15,.22,.85\n4.55,.23,.9\n5.35,.08,.3\n5.75,.08,.35\n6.25,.08,.4\n6.58,.085,.95","format":{"type":"csv","parse":{"x":"number","y":"number","d":"number"}}},"mark":{"type":"point","shape":"cross","filled":true,"size":12,"opacity":0.9},"encoding":{"x":{"field":"x","type":"quantitative"},"y":{"field":"y","type":"quantitative"},"fill":{"field":"d","type":"quantitative","scale":{"domain":[0,0.25,0.5,0.75,1],"range":["#3b4cc0","#7b9ff9","#dddddd","#f49a7b","#b40426"],"interpolate":"rgb"},"legend":{"values":[0,0.2,0.4,0.6,0.8,1],"format":".1f","title":"ΔL_training","titleOrient":"right","titleAngle":270,"labelFontSize":5}}}},
{"data":{"values":[{"x":2.85,"y":1.081,"s":"1/S = −252.4 (1/E) + 0.0180"},{"x":5.05,"y":0.525,"s":"1/S = −252.4 (1/E) + 0.0180"}]},"mark":{"type":"line","strokeWidth":1.4,"opacity":0.85},"encoding":{"x":{"field":"x","type":"quantitative"},"y":{"field":"y","type":"quantitative"},"color":{"field":"s","type":"nominal","scale":{"range":["#ffcc33"]},"legend":{"title":null,"orient":"bottom-left","offset":2,"padding":2.5,"fillColor":"#ffffffd9","strokeColor":"#cccccc","cornerRadius":2,"symbolType":"stroke","symbolStrokeWidth":1.5,"symbolSize":90}}}},
{"data":{"values":[{"t":"1e−5"}]},"mark":{"type":"text","fontSize":5.5,"align":"right","baseline":"top","dy":9,"color":"#333"},"encoding":{"x":{"datum":6.88},"y":{"datum":0.023},"text":{"field":"t","type":"nominal"}}}]}
]},
{"title":{"text":"(f) L_training = 4.633 ± 0.001","orient":"bottom","anchor":"middle","font":"DejaVu Serif","fontSize":11,"color":"#000","offset":4},"spacing":2,"resolve":{"scale":{"color":"independent","fill":"independent","shape":"independent","stroke":"independent"}},"hconcat":[
{"width":102,"height":108,"title":"1e−4","layer":[
{"data":{"values":"b,l\n16,1\n56,2.25\n96,1.63\n136,2.88\n176,2.88\n216,2.88\n256,2.88\n296,3.5\n336,3.5\n376,2.88","format":{"type":"csv","parse":{"b":"number","l":"number"}}},"mark":{"type":"point","filled":true,"size":70,"opacity":1},"encoding":{"x":{"field":"b","type":"quantitative","scale":{"domain":[-2,394]},"axis":{"values":[0,100,200,300],"title":"Batch size"}},"y":{"field":"l","type":"quantitative","scale":{"domain":[0.655,8.245]},"axis":{"values":[1,2,3,4,5,6,7,8],"title":"Learning rate"}},
"color":{"datum":"ΔLₒₚₜ","type":"nominal","scale":{"domain":["ΔLₒₚₜ","Bₙₒᵢₛₑ = 323.5","ΔL","ε_SGD, α = 0.5","ε_SGD, α = 1.0","ε_Adam"],"range":["#ffc61a","#e63b3b","#c0282d","#ffb300","#c9c9f2","#46d6c6"]},"legend":{"title":null,"orient":"top-left","padding":2.5,"fillColor":"#ffffffd9","strokeColor":"#cccccc","cornerRadius":2}},
"shape":{"datum":"ΔLₒₚₜ","type":"nominal","scale":{"domain":["ΔLₒₚₜ","Bₙₒᵢₛₑ = 323.5","ΔL","ε_SGD, α = 0.5","ε_SGD, α = 1.0","ε_Adam"],"range":["M0,-1L0.22,-0.31L0.95,-0.31L0.36,0.12L0.59,0.81L0,0.38L-0.59,0.81L-0.36,0.12L-0.95,-0.31L-0.22,-0.31Z","M-1,-0.13H-0.4V0.13H-1Z M-0.2,-0.13H0.2V0.13H-0.2Z M0.4,-0.13H1V0.13H0.4Z","M-0.35,-0.1H0.35V0.1H-0.35Z M-0.1,-0.35H0.1V0.35H-0.1Z","M-1,-0.13H1V0.13H-1Z","M-1,-0.13H1V0.13H-1Z","M-1,-0.13H1V0.13H-1Z"]}}}},
{"data":{"values":"b,l,d\n16,7.9,.4\n56,7.9,.4\n96,7.9,.35\n136,7.9,.3\n176,7.9,.25\n216,7.9,.2\n256,7.9,.1\n296,7.9,.08\n336,7.9,.08\n376,7.9,.08\n16,7.27,.4\n56,7.27,.4\n96,7.27,.4\n136,7.27,.35\n176,7.27,.3\n216,7.27,.25\n256,7.27,.15\n296,7.27,.1\n336,7.27,.1\n376,7.27,.1\n16,6.64,.4\n56,6.64,.4\n96,6.64,.4\n136,6.64,.4\n176,6.64,.4\n216,6.64,.35\n256,6.64,.3\n296,6.64,.3\n336,6.64,.3\n376,6.64,.3\n16,6,.4\n56,6,.45\n96,6,.5\n136,6,.5\n176,6,.5\n216,6,.5\n256,6,.5\n296,6,.5\n336,6,.5\n376,6,.5\n16,5.38,.3\n56,5.38,.45\n96,5.38,.55\n136,5.38,.6\n176,5.38,.6\n216,5.38,.6\n256,5.38,.6\n296,5.38,.6\n336,5.38,.6\n376,5.38,.6\n16,4.76,.15\n56,4.76,.5\n96,4.76,.6\n136,4.76,.65\n176,4.76,.65\n216,4.76,.65\n256,4.76,.65\n296,4.76,.65\n336,4.76,.65\n376,4.76,.65\n16,4.13,.3\n56,4.13,.55\n96,4.13,.7\n136,4.13,.75\n176,4.13,.75\n216,4.13,.78\n256,4.13,.8\n296,4.13,.8\n336,4.13,.8\n376,4.13,.8\n16,3.5,.35\n56,3.5,.6\n96,3.5,.8\n136,3.5,.9\n176,3.5,.9\n216,3.5,.9\n256,3.5,.9\n296,3.5,1\n336,3.5,1\n376,3.5,.95\n16,2.88,.45\n56,2.88,.85\n96,2.88,.9\n136,2.88,1\n176,2.88,1\n216,2.88,1\n256,2.88,1\n296,2.88,.95\n336,2.88,.95\n376,2.88,1\n16,2.25,.5\n56,2.25,1\n96,2.25,.9\n136,2.25,.85\n176,2.25,.85\n216,2.25,.85\n256,2.25,.85\n296,2.25,.85\n336,2.25,.85\n376,2.25,.85\n16,1.63,.7\n56,1.63,.7\n96,1.63,1\n136,1.63,.6\n176,1.63,.6\n216,1.63,.6\n256,1.63,.6\n296,1.63,.6\n336,1.63,.6\n376,1.63,.6\n16,1,1\n56,1,.55\n96,1,.45\n136,1,.12\n176,1,.1\n216,1,.1\n256,1,.1\n296,1,.1\n336,1,.1\n376,1,.1","format":{"type":"csv","parse":{"b":"number","l":"number","d":"number"}}},"mark":{"type":"point","shape":"cross","filled":true,"size":13,"opacity":0.85},"encoding":{"x":{"field":"b","type":"quantitative"},"y":{"field":"l","type":"quantitative"},"fill":{"field":"d","type":"quantitative","scale":{"domain":[0,0.25,0.5,0.75,1],"range":["#3b4cc0","#7b9ff9","#dddddd","#f49a7b","#b40426"],"interpolate":"rgb"},"legend":null}}},
{"data":{"values":"s,b,l\nh,16,1.05\nh,56,1.9\nh,96,2.4\nh,136,2.65\nh,176,2.85\nh,216,2.95\nh,256,3.05\nh,296,3.15\nh,336,3.3\nh,376,3.45\nk,16,.45\nk,56,1.5\nk,96,2.3\nk,136,2.9\nk,176,3.4\nk,216,3.85\nk,256,4.3\nk,296,4.65\nk,336,4.95\nk,376,5.15\nm,16,1.2\nm,56,2.2\nm,96,2.55\nm,136,2.7\nm,176,2.8\nm,216,2.85\nm,256,2.88\nm,296,2.9\nm,336,2.9\nm,376,2.9","format":{"type":"csv","parse":{"b":"number","l":"number"}}},"mark":{"type":"line","strokeWidth":1.2,"opacity":0.85},"encoding":{"x":{"field":"b","type":"quantitative"},"y":{"field":"l","type":"quantitative"},"stroke":{"field":"s","type":"nominal","scale":{"domain":["h","k","m"],"range":["#ffb300","#c9c9f2","#46d6c6"]},"legend":null}}},
{"data":{"values":[{"b":323.5}]},"mark":{"type":"rule","color":"#e63b3b","strokeWidth":1.1,"strokeDash":[4,1.5,1,1.5],"opacity":0.8},"encoding":{"x":{"field":"b","type":"quantitative"}}}]},
{"width":96,"height":113,"title":"1e−2","layer":[
{"data":{"values":"x,y\n2.42,.93\n2.64,.89\n2.84,.85\n3.48,.74\n3.65,.64\n3.92,.53\n3.9,.38","format":{"type":"csv","parse":{"x":"number","y":"number"}}},"mark":{"type":"point","shape":"M0,-1L0.22,-0.31L0.95,-0.31L0.36,0.12L0.59,0.81L0,0.38L-0.59,0.81L-0.36,0.12L-0.95,-0.31L-0.22,-0.31Z","filled":true,"size":55,"color":"#ffc61a","opacity":1},"encoding":{"x":{"field":"x","type":"quantitative","scale":{"domain":[1.4,6.45]},"axis":{"values":[2,3,4,5,6],"format":"d","title":"Reciprocal of E"}},"y":{"field":"y","type":"quantitative","scale":{"domain":[0.06,1.02]},"axis":{"values":[0.2,0.4,0.6,0.8,1.0],"format":".1f","title":"Reciprocal of S"}}}},
{"data":{"values":"x,y,d\n1.8,.68,.05\n1.955,.74,.3\n2.11,.81,.55\n2.265,.87,.8\n2.42,.93,1\n2,.64,.05\n2.16,.7,.3\n2.32,.77,.55\n2.48,.83,.8\n2.64,.89,1\n2.15,.58,.05\n2.32,.65,.3\n2.5,.72,.55\n2.67,.78,.8\n2.84,.85,1\n2.35,.48,.05\n2.63,.55,.3\n2.915,.61,.55\n3.2,.68,.8\n3.48,.74,1\n3.6,.75,.9\n2.4,.38,.05\n2.71,.45,.3\n3.025,.51,.55\n3.34,.58,.8\n3.65,.64,1\n2.45,.3,.05\n2.82,.36,.3\n3.185,.42,.55\n3.55,.47,.8\n3.92,.53,1\n4,.55,.9\n2.2,.21,.05\n2.63,.25,.3\n3.05,.3,.55\n3.48,.34,.8\n3.9,.38,1\n2.3,.15,.05\n2.6,.17,.2\n2.9,.18,.5\n3.25,.19,.85\n3.55,.2,.95\n4.7,.1,.3\n5,.1,.35\n5.4,.1,.4\n6.1,.1,.95","format":{"type":"csv","parse":{"x":"number","y":"number","d":"number"}}},"mark":{"type":"point","shape":"cross","filled":true,"size":12,"opacity":0.9},"encoding":{"x":{"field":"x","type":"quantitative"},"y":{"field":"y","type":"quantitative"},"fill":{"field":"d","type":"quantitative","scale":{"domain":[0,0.25,0.5,0.75,1],"range":["#3b4cc0","#7b9ff9","#dddddd","#f49a7b","#b40426"],"interpolate":"rgb"},"legend":{"values":[0,0.2,0.4,0.6,0.8,1],"format":".1f","title":"ΔL_training","titleOrient":"right","titleAngle":270,"labelFontSize":5}}}},
{"data":{"values":[{"x":2.4,"y":0.984,"s":"1/S = −323.5 (1/E) + 0.0176"},{"x":3.9,"y":0.498,"s":"1/S = −323.5 (1/E) + 0.0176"}]},"mark":{"type":"line","strokeWidth":1.4,"opacity":0.85},"encoding":{"x":{"field":"x","type":"quantitative"},"y":{"field":"y","type":"quantitative"},"color":{"field":"s","type":"nominal","scale":{"range":["#ffcc33"]},"legend":{"title":null,"orient":"bottom-left","offset":2,"padding":2.5,"fillColor":"#ffffffd9","strokeColor":"#cccccc","cornerRadius":2,"symbolType":"stroke","symbolStrokeWidth":1.5,"symbolSize":90}}}},
{"data":{"values":[{"t":"1e−5"}]},"mark":{"type":"text","fontSize":5.5,"align":"right","baseline":"top","dy":9,"color":"#333"},"encoding":{"x":{"datum":6.45},"y":{"datum":0.06},"text":{"field":"t","type":"nominal"}}}]}
]}
]}
]
}
